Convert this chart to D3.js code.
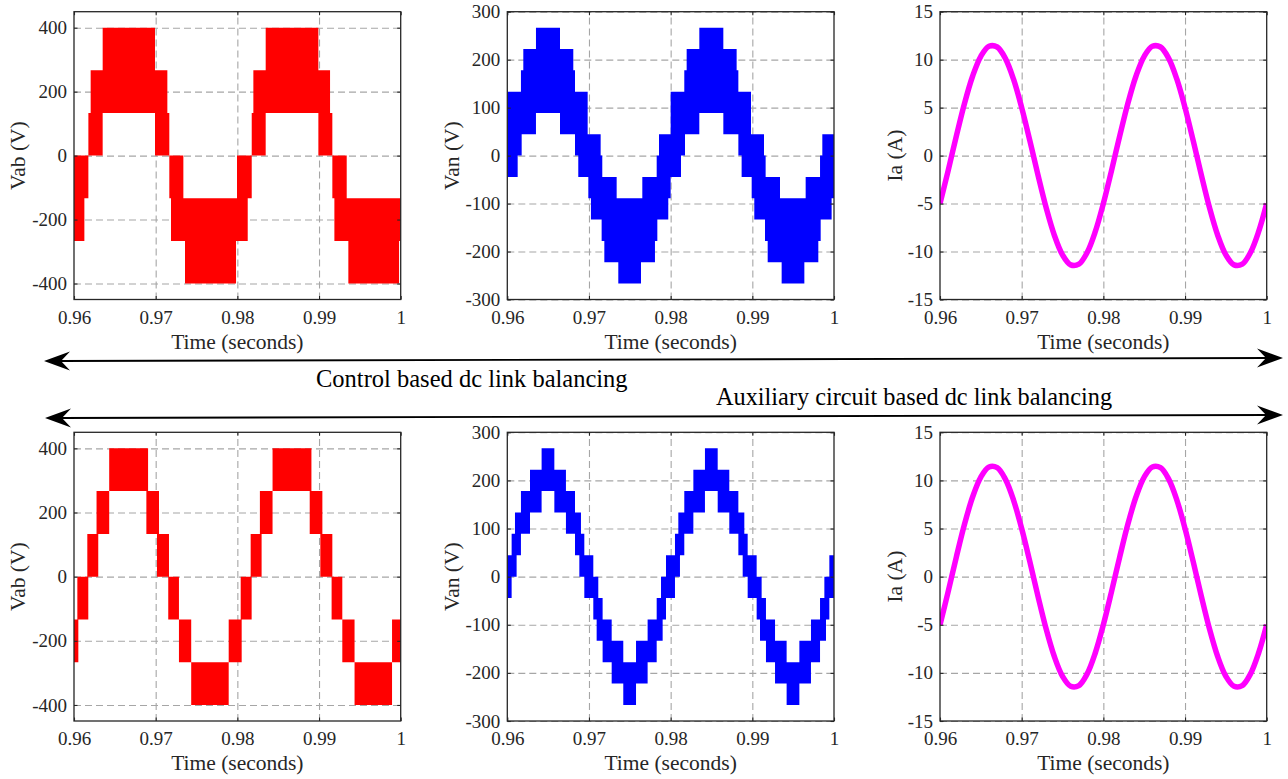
<!DOCTYPE html>
<html>
<head>
<meta charset="utf-8">
<script src="https://cdn.jsdelivr.net/npm/d3@7"></script>
<style>
  body { margin: 0; background: #fff; }
  svg { display: block; }
  text { font-family: "Liberation Serif", "Times New Roman", serif; }
</style>
</head>
<body>
<div id="chart"></div>
<script>
// ---- data ----
var timeTicks = [0.96, 0.97, 0.98, 0.99, 1];
var timeTickLabels = ['0.96', '0.97', '0.98', '0.99', '1'];
var vabTicks = [-400, -200, 0, 200, 400];
var vanTicks = [-300, -200, -100, 0, 100, 200, 300];
var iaTicks = [-15, -10, -5, 0, 5, 10, 15];

// control based balancing : Vab envelope (step start time, upper level, lower level)
var vabTopT  = [0.96, 0.96127, 0.96176, 0.96204, 0.96351, 0.96992, 0.97143, 0.97167, 0.97188, 0.97339, 0.97359, 0.97984, 0.97996,
                0.98127, 0.98176, 0.98196, 0.98347, 0.98992, 0.99135, 0.99163, 0.99188, 0.99339, 0.99359, 0.9998, 1.0];
var vabTopHi = [0, 0, 133.3, 266.7, 400, 266.7, 133.3, 0, 0, -133.3, -133.3, -133.3, 0,
                0, 133.3, 266.7, 400, 266.7, 133.3, 0, 0, -133.3, -133.3, -133.3, -133.3];
var vabTopLo = [-266.7, -133.3, 0, 0, 133.3, 0, 0, -133.3, -266.7, -266.7, -400, -266.7, -266.7,
                -133.3, 0, 0, 133.3, 0, 0, -133.3, -266.7, -266.7, -400, -266.7, -266.7];

// control based balancing : Van envelope
var vanTopT  = [0.96, 0.96127, 0.96167, 0.96176, 0.96196, 0.96351, 0.96645, 0.96808, 0.96829, 0.96869, 0.96984, 0.96992, 0.97024,
                0.97143, 0.97155, 0.97163, 0.97188, 0.97339, 0.97359, 0.97637, 0.97653, 0.97808, 0.97829, 0.97837, 0.97857, 0.97971,
                0.98, 0.98127, 0.98167, 0.98176, 0.98196, 0.98351, 0.98645, 0.98808, 0.98829, 0.98869, 0.98984, 0.98992, 0.99024,
                0.99143, 0.99155, 0.99163, 0.99188, 0.99339, 0.99359, 0.99637, 0.99653, 0.99808, 0.99829, 0.99837, 0.99857, 0.99971, 1.0];
var vanTopHi = [133.3, 133.3, 177.8, 177.8, 222.2, 266.7, 222.2, 177.8, 133.3, 133.3, 44.4, 44.4, 44.4,
                0, 0, -44.4, -44.4, -88.9, -88.9, -88.9, -44.4, -44.4, 0, 0, 44.4, 44.4,
                133.3, 133.3, 177.8, 177.8, 222.2, 266.7, 222.2, 177.8, 133.3, 133.3, 44.4, 44.4, 44.4,
                0, 0, -44.4, -44.4, -88.9, -88.9, -88.9, -44.4, -44.4, 0, 0, 44.4, 44.4, 44.4];
var vanTopLo = [-44.4, 0, 0, 44.4, 44.4, 88.9, 44.4, 44.4, 0, -44.4, -44.4, -88.9, -133.3,
                -133.3, -177.8, -177.8, -222.2, -222.2, -266.7, -222.2, -222.2, -177.8, -177.8, -133.3, -133.3, -88.9,
                -44.4, 0, 0, 44.4, 44.4, 88.9, 44.4, 44.4, 0, -44.4, -44.4, -88.9, -133.3,
                -133.3, -177.8, -177.8, -222.2, -222.2, -266.7, -222.2, -222.2, -177.8, -177.8, -133.3, -133.3, -88.9, -88.9];

// auxiliary circuit based balancing : Vab envelope
var vabBotT  = [0.96, 0.96041, 0.96053, 0.96163, 0.96175, 0.96276, 0.96297, 0.96431, 0.96886, 0.96907, 0.97016, 0.97041, 0.97154,
                0.97163, 0.97285, 0.97435, 0.97894, 0.98041, 0.98053, 0.98163, 0.98175, 0.98276, 0.98297, 0.98431, 0.98886, 0.98907,
                0.99016, 0.99041, 0.99154, 0.99163, 0.99285, 0.99435, 0.99894, 1.0];
var vabBotHi = [-133.3, 0, 0, 133.3, 133.3, 266.7, 266.7, 400, 400, 266.7, 266.7, 133.3, 133.3,
                0, -133.3, -266.7, -133.3, 0, 0, 133.3, 133.3, 266.7, 266.7, 400, 400, 266.7,
                266.7, 133.3, 133.3, 0, -133.3, -266.7, -133.3, -133.3];
var vabBotLo = [-266.7, -266.7, -133.3, -133.3, 0, 0, 133.3, 266.7, 133.3, 133.3, 0, 0, -133.3,
                -133.3, -266.7, -400, -266.7, -266.7, -133.3, -133.3, 0, 0, 133.3, 266.7, 133.3, 133.3,
                0, 0, -133.3, -133.3, -266.7, -400, -266.7, -266.7];

// auxiliary circuit based balancing : Van envelope
var vanBotT  = [0.96, 0.96053, 0.96094, 0.96114, 0.96167, 0.96278, 0.9642, 0.96576, 0.96718, 0.96829, 0.96882, 0.96902, 0.96943,
                0.97053, 0.97094, 0.97114, 0.97167, 0.97278, 0.9742, 0.97576, 0.97718, 0.97829, 0.97882, 0.97902, 0.97943,
                0.98053, 0.98094, 0.98114, 0.98167, 0.98278, 0.9842, 0.98576, 0.98718, 0.98829, 0.98882, 0.98902, 0.98943,
                0.99053, 0.99094, 0.99114, 0.99167, 0.99278, 0.9942, 0.99576, 0.99718, 0.99829, 0.99882, 0.99902, 0.99943, 1.0];
var vanBotHi = [44.4, 88.9, 133.3, 133.3, 177.8, 222.2, 266.7, 222.2, 177.8, 133.3, 133.3, 88.9, 44.4,
                0, 0, -44.4, -88.9, -133.3, -177.8, -133.3, -88.9, -44.4, 0, 0, 44.4,
                88.9, 133.3, 133.3, 177.8, 222.2, 266.7, 222.2, 177.8, 133.3, 133.3, 88.9, 44.4,
                0, 0, -44.4, -88.9, -133.3, -177.8, -133.3, -88.9, -44.4, 0, 0, 44.4, 44.4];
var vanBotLo = [-44.4, 0, 0, 44.4, 88.9, 133.3, 177.8, 133.3, 88.9, 44.4, 0, 0, -44.4,
                -88.9, -133.3, -133.3, -177.8, -222.2, -266.7, -222.2, -177.8, -133.3, -133.3, -88.9, -44.4,
                0, 0, 44.4, 88.9, 133.3, 177.8, 133.3, 88.9, 44.4, 0, 0, -44.4,
                -88.9, -133.3, -133.3, -177.8, -222.2, -266.7, -222.2, -177.8, -133.3, -133.3, -88.9, -44.4, -44.4];

// phase current (sampled every 1 ms)
var iaT = [0.960, 0.961, 0.962, 0.963, 0.964, 0.965, 0.966, 0.967, 0.968, 0.969, 0.970,
           0.971, 0.972, 0.973, 0.974, 0.975, 0.976, 0.977, 0.978, 0.979, 0.980,
           0.981, 0.982, 0.983, 0.984, 0.985, 0.986, 0.987, 0.988, 0.989, 0.990,
           0.991, 0.992, 0.993, 0.994, 0.995, 0.996, 0.997, 0.998, 0.999, 1.000];
var iaTop = [-5.0, -1.56, 2.04, 5.44, 8.3, 10.35, 11.39, 11.32, 10.13, 7.96, 5.0,
             1.56, -2.04, -5.44, -8.3, -10.35, -11.39, -11.32, -10.13, -7.96, -5.0,
             -1.56, 2.04, 5.44, 8.3, 10.35, 11.39, 11.32, 10.13, 7.96, 5.0,
             1.56, -2.04, -5.44, -8.3, -10.35, -11.39, -11.32, -10.13, -7.96, -5.0];
var iaBot = [-5.0, -1.56, 2.04, 5.44, 8.3, 10.35, 11.39, 11.32, 10.13, 7.96, 5.0,
             1.56, -2.04, -5.44, -8.3, -10.35, -11.39, -11.32, -10.13, -7.96, -5.0,
             -1.56, 2.04, 5.44, 8.3, 10.35, 11.39, 11.32, 10.13, 7.96, 5.0,
             1.56, -2.04, -5.44, -8.3, -10.35, -11.39, -11.32, -10.13, -7.96, -5.0];

var annotations = ['Control based dc link balancing', 'Auxiliary circuit based dc link balancing'];

// ---- layout ----
var W = 1288, H = 779;
var cols = [[74, 400.7], [507.3, 834], [940, 1266.7]];
var rows = [[11.7, 299.5], [432.3, 721]];
var axisColor = '#262626';

var panels = [
  {id: 'p1', col: 0, row: 0, dom: [-450, 450], ticks: vabTicks, kind: 'band', T: vabTopT, hi: vabTopHi, lo: vabTopLo, color: '#ff0000', label: 'Vab (V)', labelOff: 49},
  {id: 'p2', col: 1, row: 0, dom: [-300, 300], ticks: vanTicks, kind: 'band', T: vanTopT, hi: vanTopHi, lo: vanTopLo, color: '#0000ff', label: 'Van (V)', labelOff: 48},
  {id: 'p3', col: 2, row: 0, dom: [-15, 15], ticks: iaTicks, kind: 'line', T: iaT, v: iaTop, color: '#ff00ff', label: 'Ia (A)', labelOff: 38},
  {id: 'p4', col: 0, row: 1, dom: [-450, 450], ticks: vabTicks, kind: 'band', T: vabBotT, hi: vabBotHi, lo: vabBotLo, color: '#ff0000', label: 'Vab (V)', labelOff: 49},
  {id: 'p5', col: 1, row: 1, dom: [-300, 300], ticks: vanTicks, kind: 'band', T: vanBotT, hi: vanBotHi, lo: vanBotLo, color: '#0000ff', label: 'Van (V)', labelOff: 48},
  {id: 'p6', col: 2, row: 1, dom: [-15, 15], ticks: iaTicks, kind: 'line', T: iaT, v: iaBot, color: '#ff00ff', label: 'Ia (A)', labelOff: 38}
];

var svg = d3.select('#chart').append('svg').attr('width', W).attr('height', H);
var defs = svg.append('defs');

function styleGrid(sel) {
  sel.select('.domain').remove();
  sel.selectAll('line').attr('stroke', '#a6a6a6').attr('stroke-width', 1.1).attr('stroke-dasharray', '7,4');
}

function drawPanel(p) {
  var x0 = cols[p.col][0], x1 = cols[p.col][1];
  var y0 = rows[p.row][0], y1 = rows[p.row][1];
  var x = d3.scaleLinear().domain([0.96, 1]).range([x0, x1]);
  var y = d3.scaleLinear().domain(p.dom).range([y1, y0]);
  var g = svg.append('g');

  defs.append('clipPath').attr('id', 'clip-' + p.id)
    .append('rect').attr('x', x0).attr('y', y0).attr('width', x1 - x0).attr('height', y1 - y0);

  //grid
  g.append('g').attr('transform', 'translate(0,' + y1 + ')')
    .call(d3.axisBottom(x).tickValues(timeTicks.slice(1, -1)).tickSize(-(y1 - y0)).tickFormat(''))
    .call(styleGrid);
  g.append('g').attr('transform', 'translate(' + x0 + ',0)')
    .call(d3.axisLeft(y).tickValues(p.ticks).tickSize(-(x1 - x0)).tickFormat(''))
    .call(styleGrid);

  //data
  var plot = g.append('g').attr('clip-path', 'url(#clip-' + p.id + ')');
  if (p.kind === 'band') {
    var pts = p.T.map(function(t, i) { return {t: t, hi: p.hi[i], lo: p.lo[i]}; });
    var area = d3.area().curve(d3.curveStepAfter)
      .x(function(d) { return x(d.t); })
      .y0(function(d) { return y(d.lo); })
      .y1(function(d) { return y(d.hi); });
    plot.append('path').datum(pts).attr('d', area).attr('fill', p.color);
  } else {
    var lp = p.T.map(function(t, i) { return {t: t, v: p.v[i]}; });
    var line = d3.line().curve(d3.curveCatmullRom)
      .x(function(d) { return x(d.t); })
      .y(function(d) { return y(d.v); });
    plot.append('path').datum(lp).attr('d', line)
      .attr('fill', 'none').attr('stroke', p.color).attr('stroke-width', 5.5);
  }

  //axes, ticks pointing inward
  var ax = g.append('g').attr('transform', 'translate(0,' + y1 + ')')
    .call(d3.axisBottom(x).tickValues(timeTicks)
      .tickFormat(function(d, i) { return timeTickLabels[i]; })
      .tickSizeInner(-3.5).tickSizeOuter(0).tickPadding(11));
  var ay = g.append('g').attr('transform', 'translate(' + x0 + ',0)')
    .call(d3.axisLeft(y).tickValues(p.ticks)
      .tickFormat(function(d) { return String(d); })
      .tickSizeInner(-3.5).tickSizeOuter(0).tickPadding(7));
  var at = g.append('g').attr('transform', 'translate(0,' + y0 + ')')
    .call(d3.axisTop(x).tickValues(timeTicks).tickFormat('').tickSizeInner(-3.5).tickSizeOuter(0));
  var ar = g.append('g').attr('transform', 'translate(' + x1 + ',0)')
    .call(d3.axisRight(y).tickValues(p.ticks).tickFormat('').tickSizeInner(-3.5).tickSizeOuter(0));
  [ax, ay, at, ar].forEach(function(a) {
    a.select('.domain').remove();
    a.selectAll('line').attr('stroke', axisColor).attr('stroke-width', 1.1);
    a.selectAll('text').attr('fill', axisColor).attr('font-size', '19px')
      .attr('font-family', '"Liberation Serif", "Times New Roman", serif');
  });

  g.append('rect').attr('x', x0).attr('y', y0).attr('width', x1 - x0).attr('height', y1 - y0)
    .attr('fill', 'none').attr('stroke', axisColor).attr('stroke-width', 1.3);

  //labels
  g.append('text').attr('x', (x0 + x1) / 2).attr('y', y1 + 49)
    .attr('text-anchor', 'middle').attr('font-size', '21.5px').attr('fill', axisColor)
    .text('Time (seconds)');
  g.append('text')
    .attr('transform', 'translate(' + (x0 - p.labelOff) + ',' + ((y0 + y1) / 2) + ') rotate(-90)')
    .attr('text-anchor', 'middle').attr('font-size', '21.5px').attr('fill', axisColor)
    .text(p.label);
}

panels.forEach(drawPanel);

// double headed arrows between the rows
function arrowHead(xt, yt, dir) {
  var L = 26, Hh = 9.5, N = 17;
  return 'M' + xt + ',' + yt +
    'L' + (xt + dir * L) + ',' + (yt - Hh) +
    'L' + (xt + dir * N) + ',' + yt +
    'L' + (xt + dir * L) + ',' + (yt + Hh) + 'Z';
}
var arrows = [[44, 361, 1283, 358], [45, 418, 1283, 415]];
arrows.forEach(function(a) {
  svg.append('line').attr('x1', a[0] + 15).attr('y1', a[1]).attr('x2', a[2] - 15).attr('y2', a[3])
    .attr('stroke', '#000').attr('stroke-width', 1.8);
  svg.append('path').attr('d', arrowHead(a[0], a[1], 1)).attr('fill', '#000');
  svg.append('path').attr('d', arrowHead(a[2], a[3], -1)).attr('fill', '#000');
});

svg.append('text').attr('x', 316).attr('y', 387).attr('font-size', '24.5px').attr('fill', '#000').text(annotations[0]);
svg.append('text').attr('x', 716).attr('y', 405).attr('font-size', '24.3px').attr('fill', '#000').text(annotations[1]);
</script>
</body>
</html>
